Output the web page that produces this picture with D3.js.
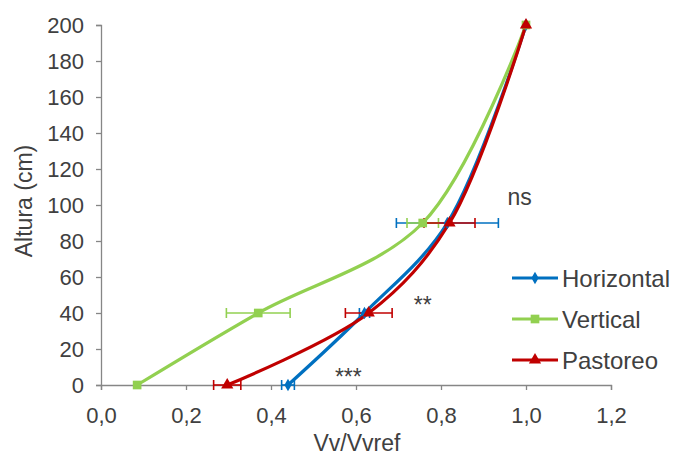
<!DOCTYPE html>
<html><head><meta charset="utf-8">
<script src="https://cdn.jsdelivr.net/npm/d3@7"></script>
<style>body{margin:0;background:#fff}svg{display:block}text{font-family:"Liberation Sans",Arial,sans-serif;fill:#404040}</style>
</head><body>
<svg id="c" width="675" height="459"></svg>
<script>
const heights = [0, 40, 90, 200];
const seriesNames = ["Horizontal", "Vertical", "Pastoreo"];
const horizontal = [0.44, 0.62, 0.815, 1.0];
const horizontalErr = [0.015, 0.012, 0.12, 0];
const vertical = [0.085, 0.37, 0.757, 1.0];
const verticalErr = [0, 0.075, 0.037, 0];
const pastoreo = [0.297, 0.63, 0.82, 1.0];
const pastoreoErr = [0.032, 0.055, 0.06, 0];
const xTicks = [0, 0.2, 0.4, 0.6, 0.8, 1.0, 1.2];
const yTicks = [0, 20, 40, 60, 80, 100, 120, 140, 160, 180, 200];
const notes = [{t:"ns", x:0.985, y:100}, {t:"**", x:0.757, y:40}, {t:"***", x:0.582, y:0}];

const colors = ["#0070C0", "#92D050", "#C00000"];
const svg = d3.select("#c");
const x = d3.scaleLinear().domain([0, 1.2]).range([101, 611]);
const y = d3.scaleLinear().domain([0, 200]).range([385, 25]);
const axisColor = "#868686";
const font = '"Liberation Sans",Arial,sans-serif';

const xa = svg.append("g").attr("transform", "translate(0,385)")
  .call(d3.axisBottom(x).tickValues(xTicks).tickSize(5).tickPadding(17).tickFormat(d => d3.format(".1f")(d).replace(".", ",")));
const ya = svg.append("g").attr("transform", "translate(101,0)")
  .call(d3.axisLeft(y).tickValues(yTicks).tickSize(5).tickPadding(12));
[xa, ya].forEach(a => {
  a.select(".domain").attr("stroke", axisColor).attr("stroke-width", 1.3);
  a.selectAll(".tick line").attr("stroke", axisColor).attr("stroke-width", 1.3);
  a.selectAll(".tick text").style("font-size", "22px").attr("fill", "#404040").style("font-family", font);
});

svg.append("text").attr("x", 357).attr("y", 451).attr("text-anchor", "middle").style("font-size", "23px").text("Vv/Vvref");
svg.append("text").attr("transform", "translate(32,201) rotate(-90)").attr("text-anchor", "middle").style("font-size", "23px").text("Altura (cm)");

const data = [
  {name: seriesNames[0], vals: horizontal, err: horizontalErr, c: colors[0], m: "diamond"},
  {name: seriesNames[1], vals: vertical, err: verticalErr, c: colors[1], m: "square"},
  {name: seriesNames[2], vals: pastoreo, err: pastoreoErr, c: colors[2], m: "triangle"}
];
const line = d3.line().x(d => x(d[0])).y(d => y(d[1])).curve(d3.curveCatmullRom.alpha(0.5));
const sym = {diamond: d3.symbol().type(d3.symbolDiamond).size(45),
             square: d3.symbol().type(d3.symbolSquare).size(75),
             triangle: d3.symbol().type(d3.symbolTriangle).size(65)};

data.forEach(s => {
  const pts = s.vals.map((v, i) => [v, heights[i]]);
  svg.append("path").attr("d", line(pts)).attr("fill", "none").attr("stroke", s.c).attr("stroke-width", 3.2);
});
data.forEach(s => {
  const g = svg.append("g");
  s.vals.forEach((v, i) => {
    const e = s.err[i];
    if (e > 0) {
      const yy = y(heights[i]);
      g.append("line").attr("x1", x(v - e)).attr("x2", x(v + e)).attr("y1", yy).attr("y2", yy).attr("stroke", s.c).attr("stroke-width", 1.6);
      [v - e, v + e].forEach(xe => g.append("line").attr("x1", x(xe)).attr("x2", x(xe)).attr("y1", yy - 5).attr("y2", yy + 5).attr("stroke", s.c).attr("stroke-width", 1.6));
    }
  });
});
data.forEach(s => {
  s.vals.forEach((v, i) => {
    svg.append("path").attr("d", sym[s.m]()).attr("transform", `translate(${x(v)},${y(heights[i])})`).attr("fill", s.c);
  });
});

notes.forEach(n => svg.append("text").attr("x", x(n.x)).attr("y", y(n.y)).attr("text-anchor", "middle").style("font-size", "23px").attr("fill", "#262626").text(n.t));

const leg = svg.append("g");
data.forEach((s, i) => {
  const ly = 278 + i * 41;
  leg.append("line").attr("x1", 512).attr("x2", 558).attr("y1", ly).attr("y2", ly).attr("stroke", s.c).attr("stroke-width", 3.2);
  leg.append("path").attr("d", sym[s.m]()).attr("transform", `translate(535,${ly})`).attr("fill", s.c);
  leg.append("text").attr("x", 562).attr("y", ly + 9).style("font-size", "24px").attr("fill", "#262626").text(s.name);
});
</script>
</body></html>
